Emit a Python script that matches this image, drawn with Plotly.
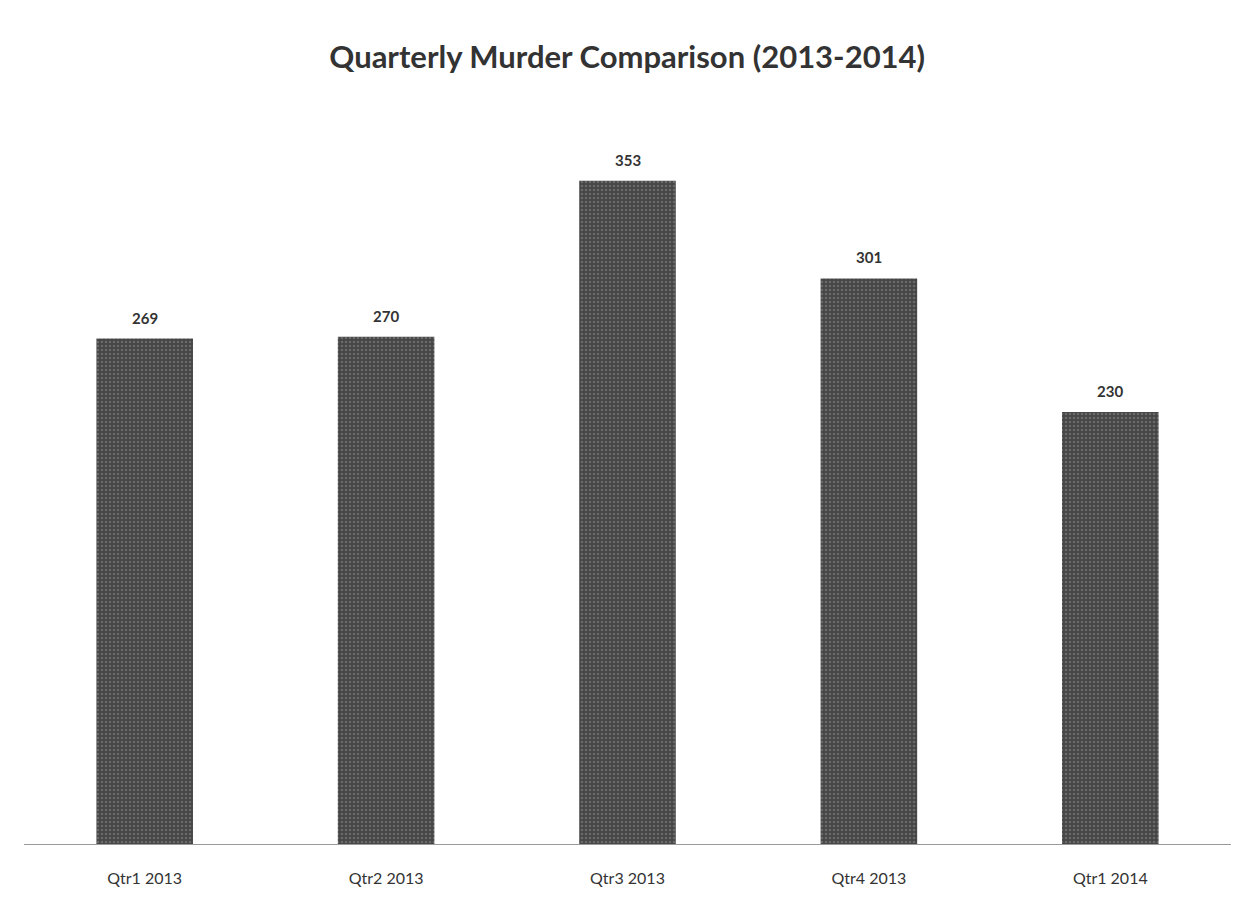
import plotly.graph_objects as go

quarters = ["Qtr1 2013", "Qtr2 2013", "Qtr3 2013", "Qtr4 2013", "Qtr1 2014"]
murders = [269, 270, 353, 301, 230]

fig = go.Figure()
fig.add_trace(go.Bar(
    x=quarters,
    y=murders,
    marker=dict(
        color="#4c4c4c",
        line=dict(width=0),
        pattern=dict(shape=".", fgcolor="#6a6a6a", bgcolor="#454545",
                     size=4, solidity=0.35, fillmode="replace"),
    ),
    hoverinfo="x+y",
))

# value labels sitting a little above each bar
for q, v in zip(quarters, murders):
    fig.add_annotation(
        x=q, y=v, text=str(v), showarrow=False,
        yanchor="bottom", yshift=10,
        font=dict(family="Lato", size=15, color="#333333", weight="bold"),
    )

fig.update_layout(
    width=1242,
    height=900,
    paper_bgcolor="white",
    plot_bgcolor="white",
    margin=dict(l=24, r=11, t=100, b=56),
    bargap=0.6,
    showlegend=False,
    title=dict(
        text="Quarterly Murder Comparison (2013-2014)",
        x=0.505, xanchor="center", y=0.937, yanchor="middle",
        font=dict(family="Lato", size=31, color="#333333", weight="bold"),
    ),
    xaxis=dict(
        showline=True, linecolor="#9a9a9a", linewidth=1,
        ticks="", showgrid=False,
        tickfont=dict(family="Lato", size=16, color="#333333"),
        ticklabelstandoff=20,
    ),
    yaxis=dict(
        range=[0, 396], visible=False, showgrid=False, zeroline=False,
    ),
)

fig.write_html("out.html")
